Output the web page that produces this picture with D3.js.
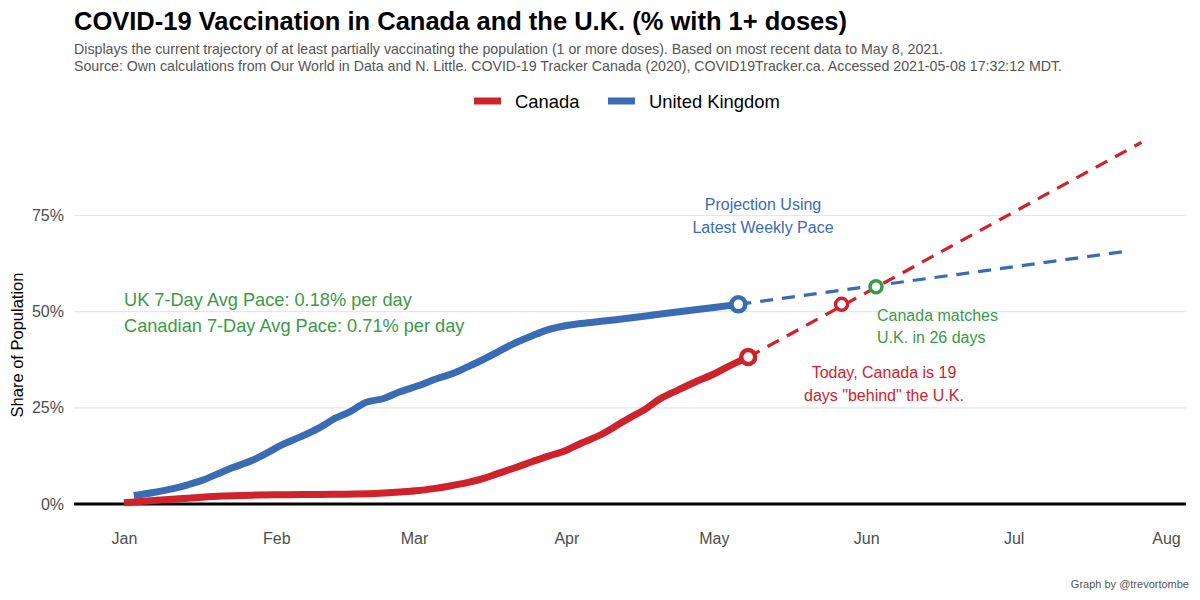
<!DOCTYPE html>
<html>
<head>
<meta charset="utf-8">
<script src="https://cdn.jsdelivr.net/npm/d3@7"></script>
<style>
  html, body { margin: 0; padding: 0; background: #fff; }
  svg { display: block; font-family: "Liberation Sans", Arial, sans-serif; }
</style>
</head>
<body>
<svg id="chart" width="1200" height="600"></svg>
<script>
// ---------------- DATA ----------------
const seriesNames = ["Canada", "United Kingdom"];

const ukDates = ["2021-01-03","2021-01-07","2021-01-11","2021-01-14","2021-01-17","2021-01-20","2021-01-23","2021-01-27","2021-01-30","2021-02-02","2021-02-06","2021-02-10","2021-02-13","2021-02-16","2021-02-19","2021-02-23","2021-02-26","2021-03-02","2021-03-05","2021-03-09","2021-03-12","2021-03-15","2021-03-18","2021-03-21","2021-03-25","2021-03-28","2021-04-01","2021-04-06","2021-04-11","2021-04-16","2021-04-21","2021-04-26","2021-05-01","2021-05-06"];
const ukValues = [2.2,3.0,4.0,5.0,6.2,7.8,9.4,11.3,13.2,15.3,17.5,20.0,22.3,24.0,26.3,27.5,29.1,30.8,32.3,34.0,35.7,37.5,39.5,41.5,43.7,45.2,46.4,47.2,47.9,48.7,49.5,50.3,51.1,51.9];

const caDates = ["2021-01-01","2021-01-07","2021-01-13","2021-01-20","2021-01-27","2021-02-03","2021-02-10","2021-02-17","2021-02-22","2021-02-26","2021-03-02","2021-03-05","2021-03-08","2021-03-12","2021-03-15","2021-03-18","2021-03-22","2021-03-25","2021-03-28","2021-04-01","2021-04-04","2021-04-08","2021-04-11","2021-04-14","2021-04-17","2021-04-20","2021-04-24","2021-04-27","2021-05-01","2021-05-04","2021-05-08"];
const caValues = [0.3,0.9,1.4,2.0,2.3,2.4,2.5,2.6,2.8,3.1,3.5,4.0,4.6,5.6,6.6,7.9,9.6,11.0,12.3,14.0,15.8,18.0,20.2,22.5,24.6,27.3,29.8,31.6,33.8,35.8,38.2];

// projections using latest weekly pace
const caProjDates = ["2021-05-08","2021-07-27"];
const caProjValues = [38.2, 94.0];
const ukProjDates = ["2021-05-06","2021-07-24"];
const ukProjValues = [51.9, 65.7];

// markers
const caCatchDate = "2021-05-27";   // Canada reaches today's UK level (+19 days)
const caCatchValue = 51.9;
const matchDate = "2021-06-03";     // Canada matches UK (+26 days)
const matchValue = 56.5;

const yTicks = [0, 25, 50, 75];
const xTickDates = ["2021-01-01","2021-02-01","2021-03-01","2021-04-01","2021-05-01","2021-06-01","2021-07-01","2021-08-01"];

const titleText = "COVID-19 Vaccination in Canada and the U.K. (% with 1+ doses)";
const subtitleLines = [
  "Displays the current trajectory of at least partially vaccinating the population (1 or more doses). Based on most recent data to May 8, 2021.",
  "Source: Own calculations from Our World in Data and N. Little. COVID-19 Tracker Canada (2020), COVID19Tracker.ca. Accessed 2021-05-08 17:32:12 MDT."
];

// ---------------- STYLE ----------------
const RED = "#d0222a", BLUE = "#3a6bb5", GREEN = "#3a9a47";
const parse = d3.timeParse("%Y-%m-%d");

const svg = d3.select("#chart");
const panel = {left: 74, right: 1186, top: 125, bottom: 525};

const x = d3.scaleTime()
  .domain([parse("2021-01-01"), parse("2021-08-01")])
  .range([124, 1166]);
const y = d3.scaleLinear().domain([0, 75]).range([504, 215.5]);

// title / subtitle
svg.append("text").attr("x", 74).attr("y", 30)
  .attr("font-size", 25.5).attr("font-weight", "bold").attr("fill", "#000")
  .text(titleText);
svg.selectAll(".sub").data(subtitleLines).enter().append("text")
  .attr("x", 74).attr("y", (d, i) => 54 + i * 17)
  .attr("font-size", 14.2).attr("fill", "#555").text(d => d);

// legend
const legendColors = [RED, BLUE];
const legendX = [474, 608];
const lg = svg.append("g");
seriesNames.forEach((s, i) => {
  lg.append("line").attr("x1", legendX[i]).attr("x2", legendX[i] + 27)
    .attr("y1", 101).attr("y2", 101).attr("stroke", legendColors[i]).attr("stroke-width", 7);
  lg.append("text").attr("x", legendX[i] + 41).attr("y", 108)
    .attr("font-size", 18.4).attr("fill", "#000").text(s);
});

// gridlines
svg.append("g").selectAll("line").data(yTicks.filter(d => d > 0)).enter().append("line")
  .attr("x1", panel.left).attr("x2", panel.right)
  .attr("y1", d => y(d)).attr("y2", d => y(d))
  .attr("stroke", "#e6e6e6").attr("stroke-width", 1.2);

// y axis
const yAxis = d3.axisLeft(y).tickValues(yTicks).tickFormat(d => d + "%").tickSize(0).tickPadding(10);
const yg = svg.append("g").attr("transform", `translate(${panel.left},0)`).call(yAxis);
yg.select(".domain").remove();
yg.selectAll("text").attr("font-size", 16).attr("fill", "#4d4d4d").attr("font-family", "Liberation Sans, Arial, sans-serif");

svg.append("text").attr("transform", `translate(23,${(panel.top + panel.bottom) / 2 + 20}) rotate(-90)`)
  .attr("text-anchor", "middle").attr("font-size", 16.5).attr("fill", "#000")
  .text("Share of Population");

// x axis
const xAxis = d3.axisBottom(x).tickValues(xTickDates.map(parse)).tickFormat(d3.timeFormat("%b")).tickSize(0).tickPadding(0);
const xg = svg.append("g").attr("transform", `translate(0,530)`).call(xAxis);
xg.select(".domain").remove();
xg.selectAll("text").attr("font-size", 16).attr("fill", "#4d4d4d").attr("dy", "0.9em").attr("font-family", "Liberation Sans, Arial, sans-serif");

// zero line
svg.append("line").attr("x1", panel.left).attr("x2", panel.right)
  .attr("y1", y(0)).attr("y2", y(0)).attr("stroke", "#000").attr("stroke-width", 3);

// lines
const line = d3.line().x(d => x(d[0])).y(d => y(d[1])).curve(d3.curveMonotoneX);
const ca = caDates.map((d, i) => [parse(d), caValues[i]]);
const uk = ukDates.map((d, i) => [parse(d), ukValues[i]]);
const caP = caProjDates.map((d, i) => [parse(d), caProjValues[i]]);
const ukP = ukProjDates.map((d, i) => [parse(d), ukProjValues[i]]);

svg.append("path").datum(ukP).attr("d", line).attr("fill", "none")
  .attr("stroke", BLUE).attr("stroke-width", 3.2).attr("stroke-dasharray", "13,9");
svg.append("path").datum(caP).attr("d", line).attr("fill", "none")
  .attr("stroke", RED).attr("stroke-width", 3.2).attr("stroke-dasharray", "13,9");

svg.append("path").datum(uk).attr("d", line).attr("fill", "none")
  .attr("stroke", BLUE).attr("stroke-width", 7).attr("stroke-linejoin", "round");
svg.append("path").datum(ca).attr("d", line).attr("fill", "none")
  .attr("stroke", RED).attr("stroke-width", 7).attr("stroke-linejoin", "round");

// end circles
function ring(date, val, col, r, w) {
  svg.append("circle").attr("cx", x(parse(date))).attr("cy", y(val)).attr("r", r)
    .attr("fill", "#fff").attr("stroke", col).attr("stroke-width", w);
}
ring(ukDates[ukDates.length - 1], ukValues[ukValues.length - 1], BLUE, 7, 4.5);
ring(caDates[caDates.length - 1], caValues[caValues.length - 1], RED, 7, 4.5);
ring(caCatchDate, caCatchValue, RED, 6, 3.5);
ring(matchDate, matchValue, GREEN, 6, 3.5);

// annotations
function label(xp, yp, txt, col, size, anchor) {
  svg.append("text").attr("x", xp).attr("y", yp).attr("font-size", size)
    .attr("fill", col).attr("text-anchor", anchor || "start").text(txt);
}
label(124, 306, "UK 7-Day Avg Pace: 0.18% per day", GREEN, 18.2);
label(124, 332, "Canadian 7-Day Avg Pace: 0.71% per day", GREEN, 18.2);
label(763, 210, "Projection Using", BLUE, 16, "middle");
label(763, 233, "Latest Weekly Pace", BLUE, 16, "middle");
label(877, 321, "Canada matches", GREEN, 16);
label(877, 343, "U.K. in 26 days", GREEN, 16);
label(884, 378, "Today, Canada is 19", RED, 16, "middle");
label(884, 401, "days \"behind\" the U.K.", RED, 16, "middle");

// caption
label(1189, 588, "Graph by @trevortombe", "#555", 11, "end");
</script>
</body>
</html>
